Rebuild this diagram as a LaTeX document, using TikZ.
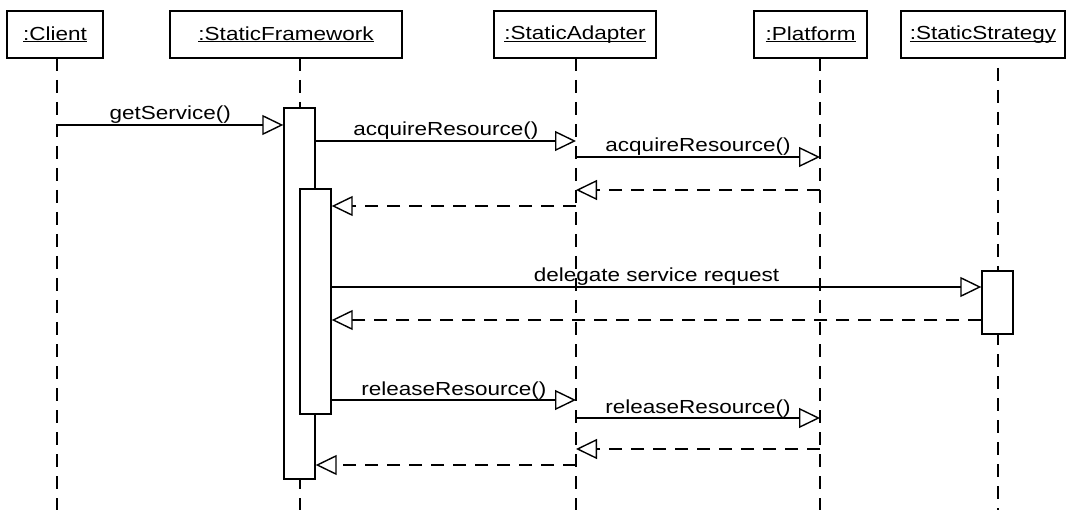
\documentclass[tikz,border=0pt]{standalone}
\usepackage{fontspec}
\setmainfont{Liberation Sans}
\usetikzlibrary{arrows.meta}
\newcommand{\wtxt}[1]{\scalebox{1.25}[1.05]{#1}}
\newcommand{\ulname}[1]{\setbox0\hbox{#1}\rlap{\rule[-2.2pt]{\wd0}{1.1pt}}\box0}
\tikzset{
  obj/.style={draw, line width=1.4pt, inner sep=0pt, font=\fontsize{18}{20}\selectfont},
  lifeline/.style={line width=1.4pt, dash pattern=on 13pt off 9pt},
  act/.style={draw, fill=white, line width=1.4pt, minimum width=31pt, inner sep=0pt},
  msg/.style={line width=1.4pt, -{Triangle[open, length=21pt, width=20pt, fill=white]}},
  ret/.style={msg, dash pattern=on 13pt off 9pt},
  lbl/.style={anchor=base, yshift=5pt, inner sep=0pt, font=\fontsize{18}{20}\selectfont}
}
\begin{document}
\begin{tikzpicture}[x=1pt, y=-1pt]
\useasboundingbox (0,0) rectangle (1070,510);
% object boxes
\node[obj, minimum width=96pt, minimum height=47pt] (client) at (55,34.5) {\wtxt{\ulname{:Client}}};
\node[obj, minimum width=232pt, minimum height=47pt] (fw) at (286,34.5) {\wtxt{\ulname{:StaticFramework}}};
\node[obj, minimum width=162pt, minimum height=47pt] (ad) at (575,34.5) {\wtxt{\ulname{:StaticAdapter}}};
\node[obj, minimum width=113pt, minimum height=47pt] (pf) at (810.5,34.5) {\wtxt{\ulname{:Platform}}};
\node[obj, minimum width=164pt, minimum height=47pt] (st) at (983,34.5) {\wtxt{\ulname{:StaticStrategy}}};
% lifeline ends
\coordinate (clT) at (57,58);   \coordinate (clB) at (57,510);
\coordinate (fwT) at (300,58);  \coordinate (fwB) at (300,510);
\coordinate (adT) at (576,58);  \coordinate (adB) at (576,510);
\coordinate (pfT) at (820,58);  \coordinate (pfB) at (820,510);
\coordinate (stT) at (998,68);  \coordinate (stB) at (998,510);
\draw[lifeline] (clT) -- (clB);
\draw[lifeline] (fwT) -- (fwB);
\draw[lifeline] (adT) -- (adB);
\draw[lifeline] (pfT) -- (pfB);
\draw[lifeline] (stT) -- (stB);
% activations
\node[act, minimum height=371pt] (a1) at (299.5,293.5) {};
\node[act, minimum height=225pt] (a2) at (315.5,301.5) {};
\node[act, minimum height=63pt] (a3) at (997.5,302.5) {};
% messages
\draw[msg] (clT |- 0,125) -- node[lbl]{\wtxt{getService()}} (a1.west |- 0,125);
\draw[msg] (a1.east |- 0,141) -- node[lbl]{\wtxt{acquireResource()}} (adT |- 0,141);
\draw[msg] (adT |- 0,157) -- node[lbl]{\wtxt{acquireResource()}} (pfT |- 0,157);
\draw[ret] (pfT |- 0,190) -- (adT |- 0,190);
\draw[ret] (adT |- 0,206) -- (a2.east |- 0,206);
\draw[msg] (a2.east |- 0,287) -- node[lbl]{\wtxt{delegate service request}} (a3.west |- 0,287);
\draw[ret] (a3.west |- 0,320) -- (a2.east |- 0,320);
\draw[msg] (a2.east |- 0,400) -- node[lbl]{\wtxt{releaseResource()}} (adT |- 0,400);
\draw[msg] (adT |- 0,418) -- node[lbl]{\wtxt{releaseResource()}} (pfT |- 0,418);
\draw[ret] (pfT |- 0,449) -- (adT |- 0,449);
\draw[ret] (adT |- 0,465) -- (a1.east |- 0,465);
\end{tikzpicture}
\end{document}
